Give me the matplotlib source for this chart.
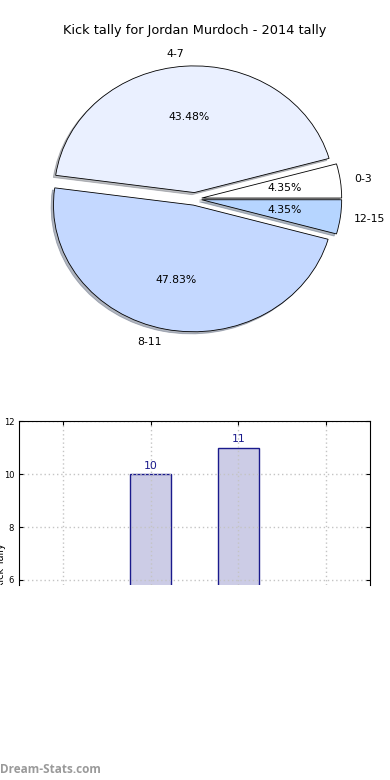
import matplotlib
matplotlib.use('Agg')
import matplotlib.pyplot as plt
from matplotlib.transforms import Bbox, TransformedBbox

# kick tally data
rangos = ['0-3', '4-7', '8-11', '12-15']
cuentas = [1, 10, 11, 1]
colores = ['#ffffff', '#eaf0ff', '#c4d8ff', '#b6d5ff']
explotar = [0.05, 0.05, 0.05, 0.05]

titulo = 'Kick tally for Jordan Murdoch - 2014 tally'

fig = plt.figure(figsize=[3.9, 7.8], dpi=100)

#__Grafica de pastel__#
ax1 = fig.add_axes([0.051, 0.542, 0.897, 0.406])
ax1.pie(cuentas, labels=rangos, colors=colores, explode=explotar,
        autopct='%1.2f%%',
        shadow={'ox': -0.012, 'oy': -0.012, 'shade': 0.5},
        wedgeprops={'edgecolor': 'black', 'linewidth': 0.6},
        textprops={'fontsize': 7.8})
ax1.set_aspect('auto')
ax1.set_xlim(-1.25, 1.25)
ax1.set_ylim(-1.25, 1.25)
fig.text(0.5, 0.961, titulo, ha='center', va='center', fontsize=9.3)

#__Grafica de barras__#
ax2 = fig.add_axes([0.0487, 0.25, 0.9003, 0.21])
x = list(range(len(rangos)))
barras = ax2.bar(x, cuentas, width=0.46, color='#ccccE6', edgecolor='#1a1a8c',
                 linewidth=1.0)
for b, v in zip(barras, cuentas):
    ax2.text(b.get_x() + b.get_width() / 2, v + 0.12, str(v), ha='center',
             va='bottom', color='#1a1a8c', fontsize=7.8, clip_on=True)
ax2.set_xlim(-0.5, 3.5)
ax2.set_ylim(5.81, 12)
ax2.set_xticks(x)
ax2.set_yticks([6, 8, 10, 12])
ax2.tick_params(axis='both', direction='in', labelsize=6, length=3,
                top=True, right=True, labelbottom=False, bottom=False)
ax2.grid(True, color='#c4c4c4', linestyle=(0, (1, 2)), linewidth=1.0)
ax2.set_axisbelow(False)
ax2.spines['bottom'].set_visible(False)
for s in ax2.spines.values():
    s.set_zorder(5)

# etiqueta del eje Y, cortada abajo
recorte = TransformedBbox(Bbox([[0, 195 / 780], [1, 1]]), fig.transFigure)
t = fig.text(0.003, 0.275, 'Kick Tally', rotation=90, ha='center', va='center',
             fontsize=7)
t.set_clip_box(recorte)
t.set_clip_on(True)

fig.text(0.0, 0.013, 'Dream-Stats.com', ha='left', va='center', fontsize=8.5,
         color='#9a9a9a', family='Open Sans', weight='bold')

plt.savefig('out.png', dpi=100)
